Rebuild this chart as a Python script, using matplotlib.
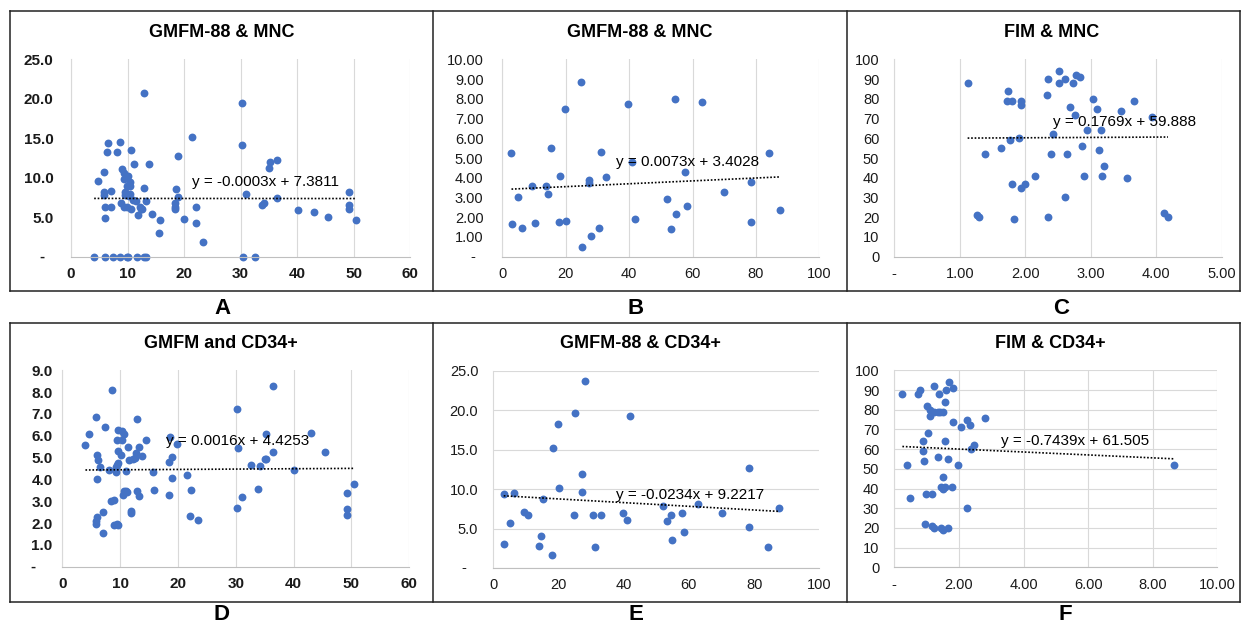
import matplotlib.pyplot as plt
from matplotlib.lines import Line2D
from matplotlib.ticker import FuncFormatter, MultipleLocator

plt.rcParams['font.family'] = ['Liberation Sans', 'DejaVu Sans']

W, H = 1246, 625
DOT = '#4472C4'
GRID = '#d9d9d9'

# GMFM-88 vs MNC (A)
a_x = [4.1, 4.7, 5.8, 5.8, 5.8, 6.0, 6.0, 6.0, 6.3, 6.6, 7.0, 7.0, 7.5, 8.2, 8.6, 8.7,
       8.9, 9.1, 9.3, 9.4, 9.4, 9.6, 9.6, 9.9, 9.9, 9.9, 10.1, 10.1, 10.2, 10.4, 10.4,
       10.4, 10.6, 10.6, 11.0, 11.2, 11.5, 11.6, 11.8, 12.2, 12.4, 12.6, 13.0, 13.0,
       13.0, 13.2, 13.2, 13.8, 14.4, 15.6, 15.8, 18.4, 18.4, 18.4, 18.5, 19.0, 19.0,
       20.0, 21.5, 22.1, 22.2, 23.4, 30.3, 30.3, 30.4, 31.0, 32.6, 33.8, 34.2, 35.0,
       35.2, 36.4, 36.4, 40.2, 43.0, 45.4, 49.2, 49.2, 49.2, 50.4]
a_y = [0.0, 9.6, 10.7, 8.2, 7.8, 6.3, 4.9, 0.0, 13.3, 14.4, 8.3, 6.3, 0.0, 13.2, 14.5, 0.0,
       6.8, 11.1, 6.3, 10.6, 9.9, 8.2, 7.8, 6.3, 8.9, 0.0, 0.0, 10.2, 7.7, 9.4, 8.9,
       8.0, 13.5, 6.0, 7.2, 11.7, 7.1, 0.0, 5.3, 6.3, 6.0, 6.0, 20.7, 8.7,
       0.0, 0.0, 7.1, 11.8, 5.4, 3.0, 4.6, 6.8, 6.3, 6.0, 8.6, 12.8, 7.5,
       4.8, 15.2, 4.3, 6.3, 1.8, 19.5, 14.1, 0.0, 8.0, 0.0, 6.6, 6.8, 11.2,
       12.0, 12.2, 7.4, 5.9, 5.6, 5.0, 8.2, 6.5, 6.0, 4.7]
a_fit = (-0.0003, 7.3811)

# GMFM-88 vs MNC (B)
b_x = [2.9, 3.1, 4.9, 6.2, 9.5, 10.4, 13.9, 14.5, 15.4, 17.9, 18.3, 19.9, 20.2, 24.7,
       25.1, 27.2, 27.2, 28.1, 30.6, 31.2, 32.8, 39.8, 40.8, 42.0, 51.9, 53.2, 54.4,
       54.8, 57.7, 58.4, 62.9, 70.0, 78.4, 78.4, 84.1, 87.7]
b_y = [5.24, 1.64, 3.00, 1.44, 3.58, 1.69, 3.58, 3.18, 5.52, 1.74, 4.10, 7.50, 1.79, 8.83,
       0.47, 3.89, 3.75, 1.03, 1.44, 5.29, 4.05, 7.75, 4.80, 1.93, 2.92, 1.39, 7.99,
       2.16, 4.29, 2.58, 7.85, 3.29, 3.77, 1.74, 5.24, 2.38]
b_fit = (0.0073, 3.4028)

# FIM vs MNC (C)
c_x = [1.12, 1.26, 1.29, 1.38, 1.63, 1.74, 1.72, 1.80, 1.77, 1.80, 1.83, 1.91, 1.94, 1.94,
       1.94, 2.00, 2.15, 2.33, 2.35, 2.34, 2.40, 2.43, 2.52, 2.52, 2.60, 2.60, 2.63, 2.69,
       2.73, 2.76, 2.77, 2.83, 2.86, 2.89, 2.95, 3.03, 3.09, 3.12, 3.15, 3.17, 3.21, 3.46,
       3.56, 3.66, 3.94, 4.12, 4.18]
c_y = [88, 21, 20, 52, 55, 84, 79, 79, 59, 37, 19, 60, 79, 77,
       35, 37, 41, 82, 90, 20, 52, 62, 94, 88, 90, 30, 52, 76,
       88, 72, 92, 91, 56, 41, 64, 80, 75, 54, 64, 41, 46, 74,
       40, 79, 71, 22, 20]
c_fit = (0.1769, 59.888)

# GMFM vs CD34+ (D)
d_x = [4.0, 4.6, 5.8, 5.8, 5.8, 6.0, 6.0, 6.1, 6.0, 6.6, 7.0, 7.0, 7.4, 8.1, 8.6, 8.5,
       8.9, 9.2, 9.3, 9.0, 9.4, 9.7, 9.6, 9.5, 9.5, 9.6, 9.7, 10.1, 10.3, 10.4, 10.5,
       10.6, 10.7, 11.0, 11.1, 11.2, 11.4, 11.5, 11.8, 11.9, 12.3, 12.6, 12.7, 13.0,
       13.0, 13.3, 13.2, 13.7, 14.4, 15.6, 15.8, 18.4, 18.6, 18.4, 19.0, 19.0, 19.9,
       21.6, 22.0, 22.2, 23.4, 30.2, 30.2, 30.4, 31.0, 32.6, 33.8, 34.2, 35.0, 35.2,
       35.2, 36.4, 36.4, 40.1, 43.0, 45.4, 49.2, 49.2, 49.2, 50.4]
d_y = [5.56, 6.10, 6.85, 2.11, 1.97, 2.26, 5.10, 4.90, 4.02, 4.55, 2.49, 1.53, 6.40, 4.43, 8.10, 3.03,
       3.07, 4.36, 4.55, 1.89, 1.96, 1.89, 6.27, 5.82, 4.68, 4.75, 5.29, 5.13, 6.20, 5.82, 3.30,
       6.10, 3.45, 4.40, 3.45, 3.42, 5.47, 4.87, 2.55, 2.46, 4.92, 4.98, 5.20, 6.75,
       3.45, 3.22, 5.47, 5.06, 5.81, 4.32, 3.51, 3.30, 5.93, 4.80, 5.01, 4.06, 5.62,
       4.19, 2.34, 3.53, 2.12, 7.24, 2.69, 5.46, 3.18, 4.65, 3.58, 4.60, 4.92, 4.92,
       6.07, 5.27, 8.27, 4.45, 6.14, 5.26, 3.36, 2.63, 2.38, 3.77]
d_fit = (0.0016, 4.4253)

# GMFM-88 vs CD34+ (E)
e_x = [3.2, 3.2, 5.0, 6.2, 9.4, 10.5, 14.0, 14.6, 15.3, 18.0, 18.4, 19.9, 20.2, 24.7,
       25.2, 27.2, 27.3, 28.1, 30.6, 31.2, 32.9, 39.7, 40.9, 41.9, 52.1, 53.3, 54.6,
       54.9, 57.9, 58.5, 62.9, 70.2, 78.5, 78.5, 84.2, 87.7]
e_y = [9.4, 3.1, 5.7, 9.5, 7.1, 6.7, 2.8, 4.0, 8.8, 1.6, 15.2, 18.3, 10.2, 6.7,
       19.6, 9.6, 11.9, 23.7, 6.7, 2.7, 6.7, 7.0, 6.1, 19.3, 7.9, 6.0, 6.7,
       3.6, 7.0, 4.5, 8.1, 7.0, 12.7, 5.2, 2.7, 7.6]
e_fit = (-0.0234, 9.2217)

# FIM vs CD34+ (F)
f_x = [0.25, 0.38, 0.49, 0.73, 0.80, 0.89, 0.90, 0.93, 0.96, 0.98, 1.02, 1.05, 1.09, 1.10,
       1.17, 1.17, 1.22, 1.24, 1.24, 1.34, 1.35, 1.39, 1.44, 1.41, 1.50, 1.46, 1.50, 1.50,
       1.50, 1.57, 1.57, 1.60, 1.65, 1.67, 1.69, 1.57, 1.78, 1.81, 1.83, 1.98, 2.05, 2.24,
       2.25, 2.33, 2.39, 2.46, 2.81, 8.67]
f_y = [88, 52, 35, 88, 90, 64, 59, 54, 22, 37, 82, 68, 77, 80,
       37, 21, 92, 20, 79, 79, 56, 88, 20, 79, 79, 41, 40, 46,
       19, 64, 84, 90, 55, 20, 94, 41, 41, 74, 91, 52, 71, 30,
       75, 72, 60, 62, 76, 52]
f_fit = (-0.7439, 61.505)


def fmt(decimals, dash):
    def f(v, pos):
        if abs(v) < 1e-9 and dash is not None:
            return dash
        return f"{v:.{decimals}f}"
    return FuncFormatter(f)


def panel(fig, box, xs, ys, fit, eq_at, xlim, xstep, ylim, ystep,
          xdec, ydec, xdash, ydash, grid, bold, ypad):
    x0, y0, x1, y1 = box
    ax = fig.add_axes([x0 / W, 1 - y1 / H, (x1 - x0) / W, (y1 - y0) / H])
    ax.set_facecolor('none')
    ax.set_xlim(*xlim)
    ax.set_ylim(*ylim)
    ax.xaxis.set_major_locator(MultipleLocator(xstep))
    ax.yaxis.set_major_locator(MultipleLocator(ystep))
    ax.xaxis.set_major_formatter(fmt(xdec, '-' if xdash else None))
    ax.yaxis.set_major_formatter(fmt(ydec, '' if ydash else None))

    weight = 'bold' if bold else 'normal'
    size = 11 if bold else 10.5
    ax.tick_params(length=0, labelsize=size, labelcolor='#1a1a1a')
    ax.tick_params(axis='x', pad=7.5)
    ax.tick_params(axis='y', pad=ypad)
    for lab in ax.get_xticklabels() + ax.get_yticklabels():
        lab.set_fontweight(weight)
    # zero on the value axis is shown as a dash, set in from the labels
    if ydash:
        ax.annotate('-', xy=(0, 0), xycoords='axes fraction', xytext=(-21, 0),
                    textcoords='offset points', ha='center', va='center',
                    fontsize=size, fontweight=weight, color='#1a1a1a')

    for s in ('top', 'right'):
        ax.spines[s].set_visible(False)
    ax.spines['left'].set_color(GRID)
    ax.spines['bottom'].set_color('#bfbfbf')
    ax.spines['left'].set_linewidth(0.8)
    ax.spines['bottom'].set_linewidth(0.8)
    ax.grid(False)
    if 'x' in grid:
        ax.xaxis.grid(True, color=GRID, lw=0.8)
    if 'y' in grid:
        ax.yaxis.grid(True, color=GRID, lw=0.8)
    ax.set_axisbelow(True)

    ax.scatter(xs, ys, s=32, color=DOT, linewidths=0, zorder=2, clip_on=False)

    # linear trendline over the span of the data
    m, b = fit
    lo, hi = min(xs), max(xs)
    ax.plot([lo, hi], [m * lo + b, m * hi + b], color='black', lw=1.2,
            ls=(0, (1, 1.1)), zorder=3)
    ax.text(eq_at[0], eq_at[1], f"y = {m:.4f}x + {b:.5g}", fontsize=11,
            ha='left', va='center', color='black', zorder=4)
    return ax


fig = plt.figure(figsize=(W / 100, H / 100), dpi=100)
fig.patch.set_facecolor('white')

panel(fig, (71, 59.3, 410, 256.7), a_x, a_y, a_fit, (21.5, 9.4), (0, 60), 10, (0, 25), 5,
      0, 1, False, True, 'x', True, 12.5)
panel(fig, (502.3, 59.3, 819.3, 256.7), b_x, b_y, b_fit, (35.9, 4.8), (0, 100), 20, (0, 10), 1,
      0, 2, False, True, 'x', False, 13.5)
panel(fig, (894.3, 59.3, 1221.7, 256.7), c_x, c_y, c_fit, (2.43, 68.4), (0, 5), 1, (0, 100), 10,
      2, 0, True, False, 'x', False, 10.8)
panel(fig, (62.3, 370.3, 409.3, 566.7), d_x, d_y, d_fit, (18.0, 5.75), (0, 60), 10, (0, 9), 1,
      0, 1, False, True, 'x', True, 7)
panel(fig, (493.3, 370.7, 819.3, 568), e_x, e_y, e_fit, (37.6, 9.3), (0, 100), 20, (0, 25), 5,
      0, 1, False, True, 'y', False, 10.8)
panel(fig, (894.3, 370.3, 1217.3, 567.3), f_x, f_y, f_fit, (3.29, 64.3), (0, 10), 2, (0, 100), 10,
      2, 0, True, False, 'xy', False, 10.8)

titles = ['GMFM-88 & MNC', 'GMFM-88 & MNC', 'FIM & MNC',
          'GMFM and CD34+', 'GMFM-88 & CD34+', 'FIM & CD34+']
title_xy = [(221.7, 32.7), (639.7, 32.7), (1051.7, 32.7),
            (220.8, 343), (640.3, 343), (1050.5, 343)]
for t, (x, y) in zip(titles, title_xy):
    fig.text(x / W, 1 - y / H, t, ha='center', va='center', fontsize=13, fontweight='bold')

letters = ['A', 'B', 'C', 'D', 'E', 'F']
letter_xy = [(222.7, 308), (636, 308), (1061, 308), (221, 615), (635.5, 615), (1065.8, 615)]
for t, (x, y) in zip(letters, letter_xy):
    fig.text(x / W, 1 - y / H, t, ha='center', va='center', fontsize=16, fontweight='bold')


# table rules around the two rows of charts
def rule(xa, ya, xb, yb):
    fig.add_artist(Line2D([xa / W, xb / W], [1 - ya / H, 1 - yb / H],
                          transform=fig.transFigure, color='#222222', lw=1.1))


for top, bot in ((11, 291), (323, 602)):
    rule(10, top, 1240, top)
    rule(10, bot, 1240, bot)
    for xv in (10, 433, 847, 1240):
        rule(xv, top, xv, bot)

fig.savefig('out.png', dpi=100, facecolor='white')
